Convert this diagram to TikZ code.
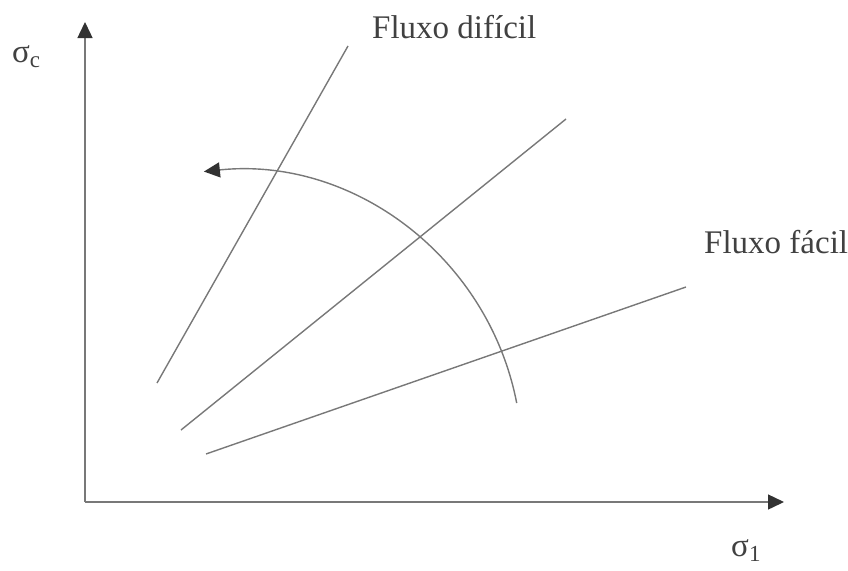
\documentclass[tikz,border=0pt]{standalone}
\usepackage{fontspec}
\setmainfont{Liberation Serif}
\usetikzlibrary{arrows.meta}
\definecolor{ln}{RGB}{120,120,120}
\definecolor{tipc}{RGB}{50,50,50}
\definecolor{txt}{RGB}{65,65,65}
\begin{document}
\begin{tikzpicture}[x=1pt,y=-1pt,
  axis/.style={draw=ln,line width=1.4pt,-{Triangle[length=16pt,width=15pt,color=tipc]}},
  flow/.style={draw=ln,line width=1.4pt},
  lbl/.style={text=txt,inner sep=0pt,font=\fontsize{33}{40}\selectfont}]
\useasboundingbox (0,0) rectangle (848,570);
% axes
\coordinate (O) at (85,502);
\coordinate (ytip) at (85,22);
\coordinate (xtip) at (784,502);
\draw[axis] (O) -- (ytip);
\draw[axis] (O) -- (xtip);
% axis labels
\node[lbl,anchor=base west] (sc) at (12,62) {σ\raisebox{-5pt}{\fontsize{23}{27}\selectfont c}};
\node[lbl,anchor=base west] (s1) at (731,556) {σ\raisebox{-5pt}{\fontsize{23}{27}\selectfont 1}};
% flow lines
\coordinate (a1) at (157,383); \coordinate (b1) at (348,46);
\coordinate (a2) at (181,430); \coordinate (b2) at (566,119);
\coordinate (a3) at (206,454); \coordinate (b3) at (686,287);
\draw[flow] (a1) -- (b1);
\draw[flow] (a2) -- (b2);
\draw[flow] (a3) -- (b3);
% arc
\coordinate (c) at (234,458);
\draw[axis] ([shift={(-11:288)}]c) arc[start angle=-11,end angle=-96,radius=288];
% labels
\node[lbl,anchor=base west] (fd) at (372,38) {Fluxo difícil};
\node[lbl,anchor=base west] (ff) at (704,253) {Fluxo fácil};
\end{tikzpicture}
\end{document}
